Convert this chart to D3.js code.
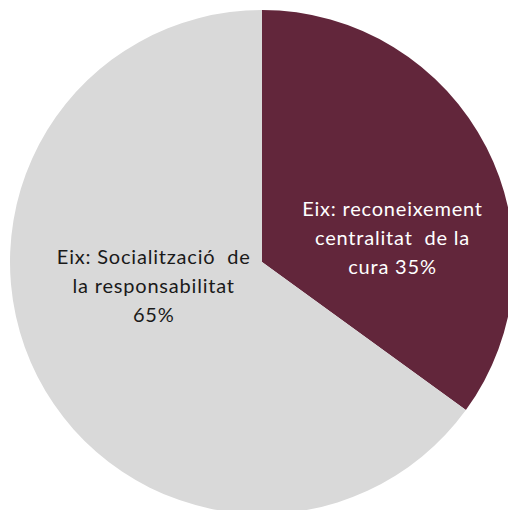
<!DOCTYPE html>
<html>
<head>
<meta charset="utf-8">
<script src="https://cdn.jsdelivr.net/npm/d3@7"></script>
<style>
  html, body { margin: 0; padding: 0; background: #fff; overflow: hidden; }
  svg { display: block; }
</style>
</head>
<body>
<svg id="chart" width="508" height="510"></svg>
<script>
// Shares of the two axes (percent)
const categories = ["Eix: reconeixement centralitat de la cura", "Eix: Socialització de la responsabilitat"];
const values = [35, 65];
const labelLines = [
  ["Eix: reconeixement", "centralitat  de la", "cura 35%"],
  ["Eix: Socialització  de", "la responsabilitat", "65%"]
];
const colors = ["#62263b", "#d9d9d9"];
const textColors = ["#ffffff", "#1a1a1a"];

const svg = d3.select("#chart");
const cx = 262, cy = 262, radius = 252;
const g = svg.append("g").attr("transform", `translate(${cx},${cy})`);

const pie = d3.pie().sort(null).value(d => d.value);
const arcs = pie(categories.map((c, i) => ({ name: c, value: values[i], i })));
const arc = d3.arc().innerRadius(0).outerRadius(radius);

g.selectAll("path.slice")
  .data(arcs)
  .join("path")
  .attr("class", "slice")
  .attr("d", arc)
  .attr("fill", d => colors[d.data.i]);

// Label placement: centroid on a label ring, nudged toward the pie's horizontal midline
const labelRing = [d3.arc().innerRadius(146).outerRadius(146), d3.arc().innerRadius(122).outerRadius(122)];
const verticalShift = [42, -31];
const lineHeight = 29;
const spacing = 0.8;

arcs.forEach(d => {
  const i = d.data.i;
  const [x, y] = labelRing[i].centroid(d);
  const lines = labelLines[i];
  const t = g.append("text")
    .attr("text-anchor", "middle")
    .attr("font-family", "Lato, 'Open Sans', sans-serif")
    .attr("font-size", 20)
    .attr("letter-spacing", spacing)
    .attr("fill", textColors[i]);
  lines.forEach((ln, k) => {
    t.append("tspan")
      .attr("x", x + spacing / 2)
      .attr("y", y + verticalShift[i] + (k - (lines.length - 1) / 2) * lineHeight + 7)
      .attr("xml:space", "preserve")
      .style("white-space", "pre")
      .text(ln);
  });
});
</script>
</body>
</html>
